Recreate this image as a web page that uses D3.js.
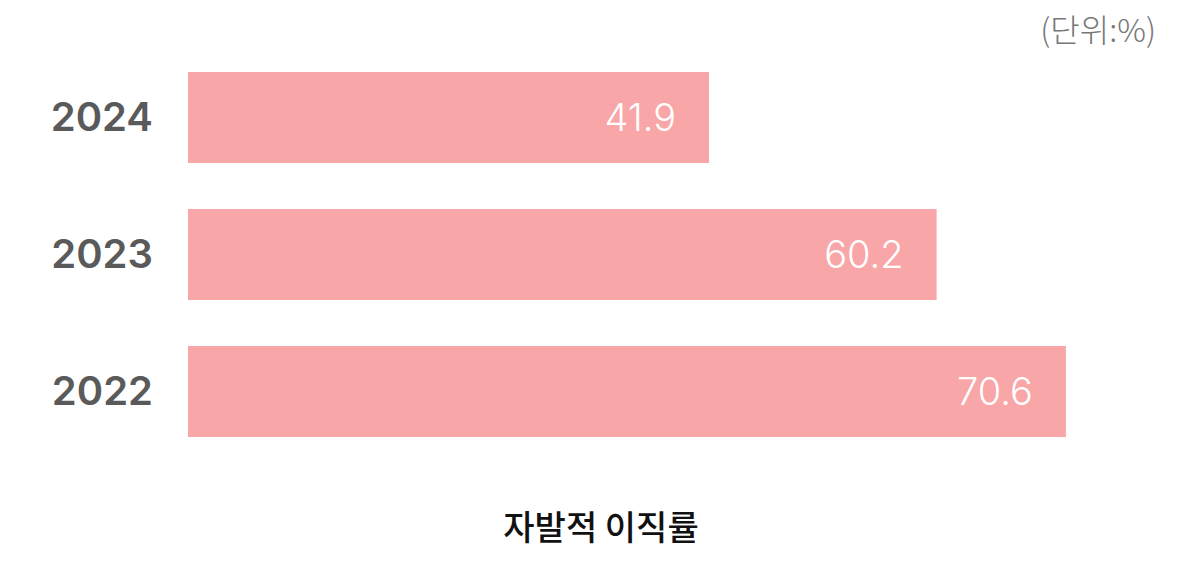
<!DOCTYPE html>
<html>
<head>
  <meta charset="utf-8">
  <script src="https://d3js.org/d3.v7.min.js"></script>
  <style>
    body { margin: 0; background: #fff; }
    text { font-family: "Noto Sans CJK KR", "Noto Sans", sans-serif; }
    .num { font-family: Inter, "Noto Sans", sans-serif; }
  </style>
</head>
<body>
<script>
  // data
  var years = ["2024", "2023", "2022"];
  var rates = [41.9, 60.2, 70.6];
  var unitLabel = "(단위:%)";
  var axisTitle = "자발적 이직률";

  var width = 1195, height = 563;

  var svg = d3.select("body").append("svg")
      .attr("width", width)
      .attr("height", height);

  // 0 sits at x=188, about 12.435px per point
  var x = d3.scaleLinear().domain([0, 100]).range([188, 188 + 1243.5]);
  var y = d3.scaleBand().domain(years).range([72, 437]).paddingInner(0.336).paddingOuter(0);

  var rows = years.map(function (d, i) { return { year: d, value: rates[i] }; });

  svg.selectAll("rect.bar")
      .data(rows)
      .enter().append("rect")
      .attr("class", "bar")
      .attr("x", x(0))
      .attr("y", function (d) { return y(d.year); })
      .attr("width", function (d) { return x(d.value) - x(0); })
      .attr("height", y.bandwidth())
      .style("fill", "#f8a6a7");

  // value labels inside bar ends
  svg.selectAll("text.val")
      .data(rows)
      .enter().append("text")
      .attr("class", "val num")
      .attr("x", function (d) { return x(d.value) - 33; })
      .attr("y", function (d) { return y(d.year) + y.bandwidth() / 2; })
      .attr("dy", "0.36em")
      .attr("text-anchor", "end")
      .style("font-size", "38px")
      .style("font-weight", 300)
      .style("fill", "#fff")
      .text(function (d) { return d.value.toFixed(1); });

  // year labels
  svg.selectAll("text.year")
      .data(rows)
      .enter().append("text")
      .attr("class", "year num")
      .attr("x", 153)
      .attr("y", function (d) { return y(d.year) + y.bandwidth() / 2 - 1; })
      .attr("dy", "0.36em")
      .attr("text-anchor", "end")
      .style("font-size", "40px")
      .style("font-weight", 600)
      .style("fill", "#5a5a5a")
      .text(function (d) { return d.year; });

  svg.append("text")
      .attr("x", 1156)
      .attr("y", 42)
      .attr("text-anchor", "end")
      .style("font-size", "32px")
      .style("font-weight", 300)
      .style("fill", "#777")
      .text(unitLabel);

  svg.append("text")
      .attr("x", 601)
      .attr("y", 540)
      .attr("text-anchor", "middle")
      .style("font-size", "34px")
      .style("font-weight", 500)
      .style("fill", "#111")
      .text(axisTitle);
</script>
</body>
</html>
